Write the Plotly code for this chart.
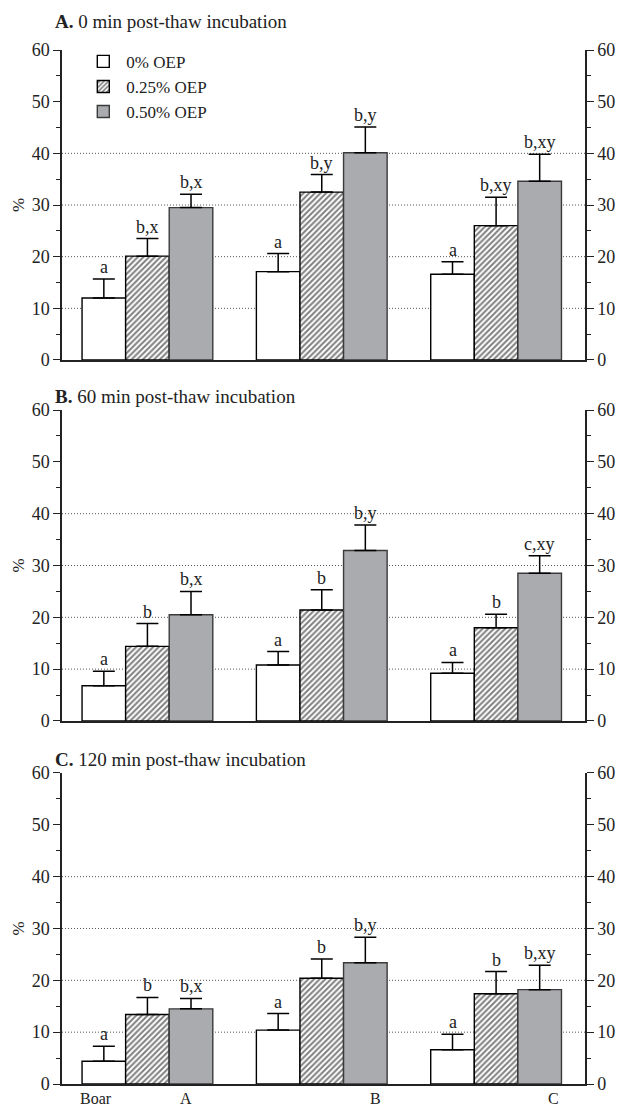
import plotly.graph_objects as go

groups = ["Boar A", "Boar B", "Boar C"]
series = ["0% OEP", "0.25% OEP", "0.50% OEP"]
panel_titles = ["<b>A.</b> 0 min post-thaw incubation",
                "<b>B.</b> 60 min post-thaw incubation",
                "<b>C.</b> 120 min post-thaw incubation"]

# Panel A: 0 min
a_vals = [[12.0, 17.1, 16.6], [20.1, 32.5, 26.0], [29.5, 40.1, 34.6]]
a_errs = [[3.7, 3.5, 2.4], [3.4, 3.4, 5.5], [2.6, 5.0, 5.2]]
a_lbls = [["a", "a", "a"], ["b,x", "b,y", "b,xy"], ["b,x", "b,y", "b,xy"]]
# Panel B: 60 min
b_vals = [[6.8, 10.8, 9.2], [14.4, 21.4, 18.0], [20.5, 32.9, 28.5]]
b_errs = [[2.8, 2.6, 2.1], [4.4, 3.9, 2.6], [4.5, 4.9, 3.4]]
b_lbls = [["a", "a", "a"], ["b", "b", "b"], ["b,x", "b,y", "c,xy"]]
# Panel C: 120 min
c_vals = [[4.4, 10.4, 6.6], [13.4, 20.4, 17.4], [14.5, 23.4, 18.2]]
c_errs = [[2.9, 3.2, 3.0], [3.3, 3.7, 4.3], [2.0, 4.9, 4.7]]
c_lbls = [["a", "a", "a"], ["b", "b", "b"], ["b,x", "b,y", "b,xy"]]

gridvals = [10, 20, 30, 40]
tickvals = [0, 10, 20, 30, 40, 50, 60]
xlabels = ["Boar", "A", "B", "C"]
xlabel_pos = [-0.295, 0.223, 1.309, 2.332]

panels = [(a_vals, a_errs, a_lbls), (b_vals, b_errs, b_lbls), (c_vals, c_errs, c_lbls)]
domains = [[0.7002, 1.0], [0.3511, 0.6518], [0.0, 0.3008]]
title_shift = [16, 1, 1]

FONT = "Liberation Serif"
fills = ["white", "white", "#aaabaf"]
patterns = [dict(shape=""), dict(shape="/", fgcolor="black", bgcolor="white", size=4, solidity=0.5), dict(shape="")]
lines = ["black", "black", "#3a3a3a"]

fig = go.Figure()
annotations = []
shapes = []

for p, (vals, errs, lbls) in enumerate(panels):
    xa = "x" if p == 0 else f"x{p+1}"
    ya = "y" if p == 0 else f"y{p+1}"
    for s in range(3):
        fig.add_trace(go.Bar(
            x=groups, y=vals[s], name=series[s], xaxis=xa, yaxis=ya,
            marker=dict(color=fills[s], pattern=patterns[s], line=dict(color=lines[s], width=1.4)),
            error_y=dict(type="data", array=errs[s], arrayminus=[0, 0, 0], symmetric=False,
                         color="black", thickness=1.5, width=11),
            showlegend=(p == 0), legendgroup=series[s], offsetgroup=str(s),
        ))
        for g in range(3):
            annotations.append(dict(
                x=g + (s - 1) * 0.25, y=vals[s][g] + errs[s][g], xref=xa, yref=ya,
                text=lbls[s][g], showarrow=False, xanchor="center", yanchor="bottom", yshift=0,
                font=dict(family=FONT, size=18, color="#222")))
    # empty trace for right axis
    fig.add_trace(go.Scatter(x=[], y=[], xaxis=xa, yaxis=f"y{p+4}", showlegend=False, hoverinfo="skip"))
    for gv in gridvals:
        shapes.append(dict(type="line", xref=f"{xa} domain", yref=ya, x0=0, x1=1, y0=gv, y1=gv,
                           line=dict(color="#555", width=1, dash="1px,2px"), layer="below"))
    annotations.append(dict(x=-0.017, y=1, xref="paper", yref=f"{ya} domain", text=panel_titles[p],
                            showarrow=False, xanchor="left", yanchor="bottom", yshift=title_shift[p],
                            font=dict(family=FONT, size=19, color="#222")))
    annotations.append(dict(x=-0.084, y=30, xref="paper", yref=ya, text="%", textangle=-90,
                            showarrow=False, xanchor="center", yanchor="middle",
                            font=dict(family=FONT, size=17, color="#222")))

    axis_common = dict(range=[0, 60], tickvals=tickvals, ticks="outside", ticklen=7, tickwidth=1.3,
                       tickcolor="#222", showline=True, linecolor="#222", linewidth=1.5,
                       showgrid=False, zeroline=False, domain=domains[p], automargin=False,
                       tickfont=dict(family=FONT, size=18, color="#222"),
                       minor=dict(dtick=5, tick0=0, ticks="outside", ticklen=4, tickcolor="#222", tickwidth=1.2))
    fig.layout[f"yaxis{'' if p == 0 else p+1}"] = dict(anchor=xa, side="left", **axis_common)
    fig.layout[f"yaxis{p+4}"] = dict(anchor=xa, side="right", overlaying=ya, **axis_common)
    fig.layout[f"xaxis{'' if p == 0 else p+1}"] = dict(
        anchor=ya, domain=[0, 1], range=[-0.49, 2.51], showticklabels=False, ticks="",
        showline=True, linecolor="#222", linewidth=1.5, showgrid=False, zeroline=False)

for lbl, pos in zip(xlabels, xlabel_pos):
    annotations.append(dict(x=pos, y=0, xref="x3", yref="paper", text=lbl, showarrow=False,
                            xanchor="center", yanchor="top", yshift=-4,
                            font=dict(family=FONT, size=16, color="#222")))

fig.update_layout(
    width=618, height=1111, margin=dict(l=62, r=33, t=50, b=27),
    paper_bgcolor="white", plot_bgcolor="white",
    barmode="group", bargap=0.25, bargroupgap=0,
    annotations=annotations, shapes=shapes,
    legend=dict(x=0.035, y=1.006, xanchor="left", yanchor="top", bgcolor="rgba(0,0,0,0)",
                font=dict(family=FONT, size=17, color="#222"), tracegroupgap=0,
                itemwidth=36),
    font=dict(family=FONT, color="#222"),
)

fig.write_html("out.html", config={"displayModeBar": False},
               post_script="document.body.style.margin='0';document.body.style.overflow='hidden';")
